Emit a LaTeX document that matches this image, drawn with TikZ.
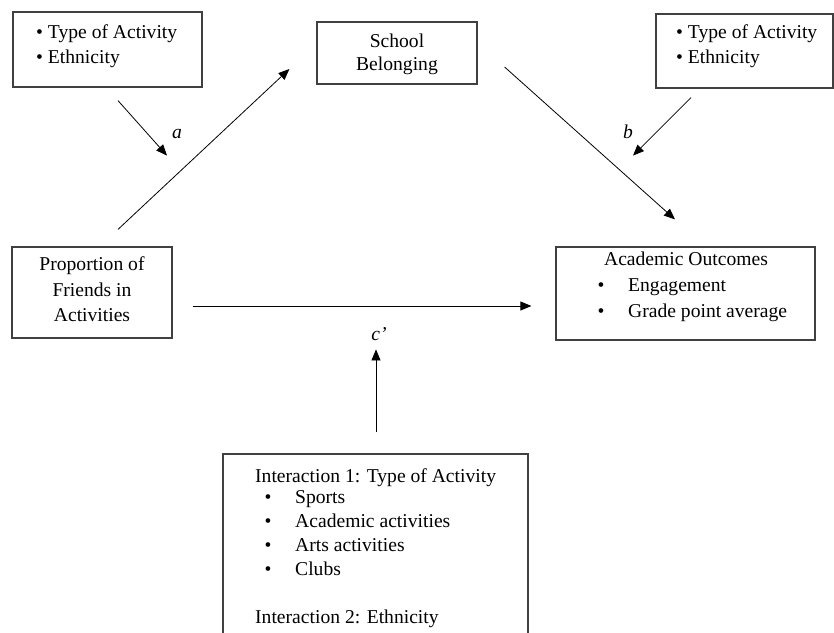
\documentclass[tikz,border=0pt]{standalone}
\usepackage{fontspec}
\setmainfont{Liberation Serif}
\usetikzlibrary{arrows.meta,positioning}

\begin{document}
\begin{tikzpicture}[x=1pt,y=-1pt,
    box/.style={draw=black!75,line width=1.2pt,inner sep=0pt},
    txt/.style={inner sep=0pt,font=\fontsize{19.6}{24}\selectfont},
    lbl/.style={inner sep=0pt,font=\fontsize{19.6}{24}\selectfont\itshape},
    arr/.style={-{Triangle[length=11pt,width=9pt]},line width=0.8pt}]
    \clip (0,0) rectangle (834,632);

    % boxes
    \node[box,minimum width=189,minimum height=75] (modA) at (107.5,49.5) {};
    \node[box,minimum width=177,minimum height=74] (modB) at (744.5,51) {};
    \node[box,minimum width=160,minimum height=62] (belong) at (397,53) {};
    \node[box,minimum width=160,minimum height=91] (friends) at (92,292.5) {};
    \node[box,minimum width=259,minimum height=93] (outcome) at (685.5,293.5) {};
    \node[box,minimum width=305,minimum height=206] (inter) at (375.5,557) {};

    % moderators
    \node[txt,anchor=base west] (modA1) at (36,38) {\textbullet\ Type of Activity};
    \node[txt,anchor=base west] (modA2) at (36,63) {\textbullet\ Ethnicity};
    \node[txt,anchor=base west] (modB1) at (676,38) {\textbullet\ Type of Activity};
    \node[txt,anchor=base west] (modB2) at (676,63) {\textbullet\ Ethnicity};

    % mediator
    \node[txt,anchor=base] (belong1) at (397,47) {School};
    \node[txt,anchor=base] (belong2) at (397,70) {Belonging};

    % predictor
    \node[txt,anchor=base] (friends1) at (92,270) {Proportion of};
    \node[txt,anchor=base] (friends2) at (92,296) {Friends in};
    \node[txt,anchor=base] (friends3) at (92,321) {Activities};

    % outcomes
    \node[txt,anchor=base] (outcome1) at (686,265) {Academic Outcomes};
    \node[txt,anchor=base] (dotE) at (601,291) {\textbullet};
    \node[txt,anchor=base west] (outcome2) at (628,291) {Engagement};
    \node[txt,anchor=base] (dotG) at (601,317) {\textbullet};
    \node[txt,anchor=base west] (outcome3) at (628,317) {Grade point average};

    % interactions
    \node[txt,anchor=base west] (inter1) at (255,482) {Interaction 1: Type of Activity};
    \node[txt,anchor=base] (dotS) at (268,503) {\textbullet};
    \node[txt,anchor=base west] (sports) at (295,503) {Sports};
    \node[txt,anchor=base] (dotAc) at (268,527) {\textbullet};
    \node[txt,anchor=base west] (acad) at (295,527) {Academic activities};
    \node[txt,anchor=base] (dotAr) at (268,551) {\textbullet};
    \node[txt,anchor=base west] (arts) at (295,551) {Arts activities};
    \node[txt,anchor=base] (dotC) at (268,575) {\textbullet};
    \node[txt,anchor=base west] (clubs) at (295,575) {Clubs};
    \node[txt,anchor=base west] (inter2) at (255,623) {Interaction 2: Ethnicity};

    % paths
    \draw[arr] ([shift={(26,-17)}]friends.north) -- ([shift={(-27,16)}]belong.west);
    \draw[arr] ([shift={(27,14)}]belong.east) -- ([shift={(-10.5,-27)}]outcome.north);
    \draw[arr] ([shift={(20,13.5)}]friends.east) -- ([shift={(-24,12.5)}]outcome.west);
    \draw[arr] ([shift={(10.5,13)}]modA.south) -- ([shift={(59.5,68)}]modA.south);
    \draw[arr] ([shift={(-53.5,9)}]modB.south) -- ([shift={(-111.5,67)}]modB.south);
    \draw[arr] ([shift={(0.5,-21)}]inter.north) -- ([shift={(0.5,-104)}]inter.north);

    % labels
    \node[lbl,anchor=base] (la) at (177,138) {a};
    \node[lbl,anchor=base] (lb) at (628,138) {b};
    \node[lbl,anchor=base] (lc) at (379,340) {c’};
\end{tikzpicture}
\end{document}
